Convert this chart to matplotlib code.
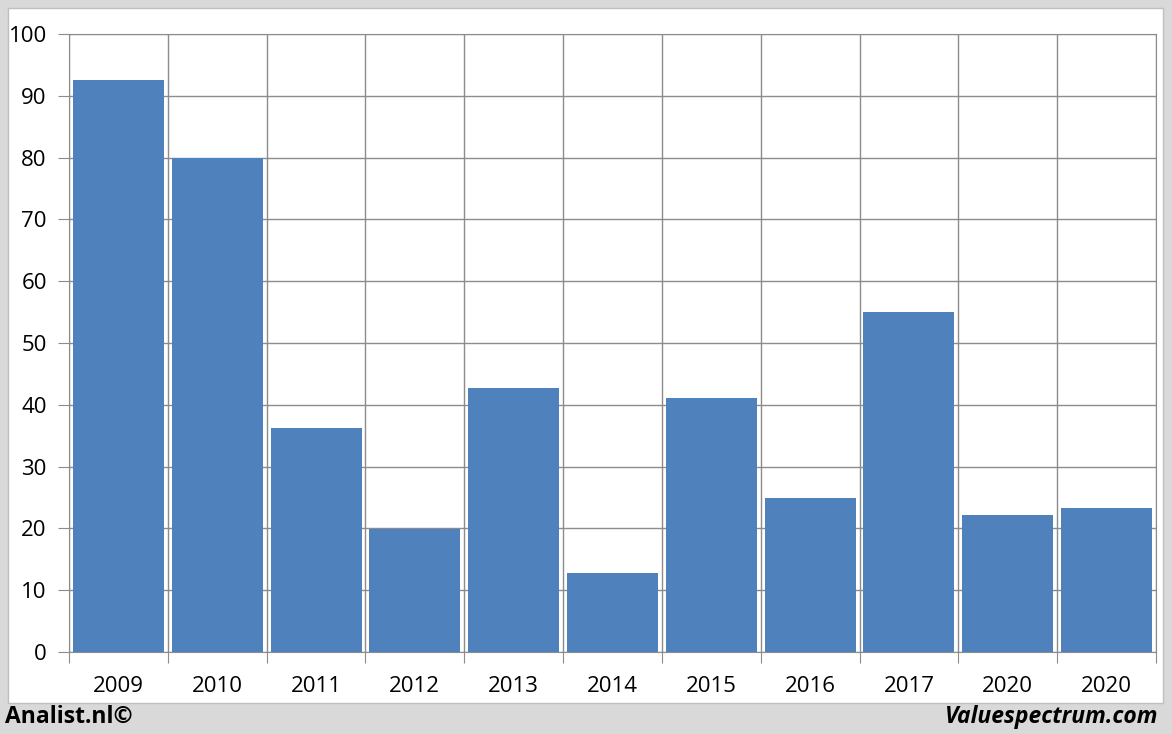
import matplotlib.pyplot as plt
import numpy as np

years = ['2009', '2010', '2011', '2012', '2013', '2014', '2015', '2016', '2017', '2020', '2020']
values = [92.6, 79.9, 36.2, 19.9, 42.7, 12.8, 41.1, 24.9, 55.0, 22.2, 23.3]

plt.rcParams['font.family'] = ['Open Sans', 'DejaVu Sans']
grid_col = '#8c8c8c'

fig = plt.figure(figsize=(11.72, 7.34), dpi=100)
fig.patch.set_facecolor('#d9d9d9')
# white panel
fig.add_artist(plt.Rectangle((8/1172, 1-703/734), (1163-8)/1172, (703-8)/734,
                             transform=fig.transFigure, facecolor='white',
                             edgecolor='#bfbfbf', lw=1, zorder=0))

ax = fig.add_axes([69/1172, 1-652/734, 1087/1172, 618/734])
ax.set_facecolor('white')
x = np.arange(len(years))
ax.bar(x, values, width=0.92, color='#4f81bd', zorder=3)

ax.set_xlim(-0.5, len(years)-0.5)
ax.set_ylim(0, 100)
ax.set_yticks(range(0, 101, 10))
ax.set_xticks(np.arange(-0.5, len(years), 1), minor=False)
ax.set_xticklabels([])
ax.set_xticks(x, minor=True)
ax.set_xticklabels(years, minor=True, fontsize=16)
ax.tick_params(axis='x', which='minor', length=0, pad=17)
ax.tick_params(axis='x', which='major', length=8, color=grid_col)
ax.tick_params(axis='y', length=8, color=grid_col, labelsize=16, pad=8)
ax.grid(True, which='major', color=grid_col, lw=1, zorder=0)
for s in ax.spines.values():
    s.set_color(grid_col)

fig.text(5/1172, 1-717/734, 'Analist.nl©', fontsize=16.5, fontweight='bold', va='center', ha='left')
fig.text(1158/1172, 1-717/734, 'Valuespectrum.com', fontsize=16.5, fontweight='bold',
         style='italic', va='center', ha='right')

fig.savefig('out.png', dpi=100, facecolor=fig.get_facecolor())
